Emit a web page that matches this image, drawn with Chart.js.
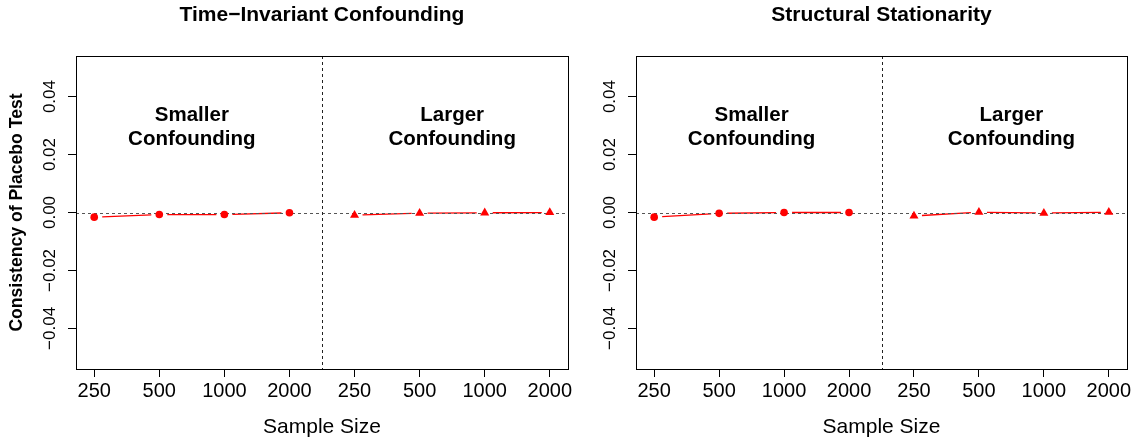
<!DOCTYPE html>
<html>
<head>
<meta charset="utf-8">
<script src="https://cdn.jsdelivr.net/npm/chart.js@4"></script>
<style>
  html, body { margin: 0; padding: 0; background: #fff; }
  #wrap { position: relative; width: 1139px; height: 442px; }
  #wrap canvas { position: absolute; left: 0; top: 0; }
</style>
</head>
<body>
<div id="wrap">
  <canvas id="left" width="1139" height="442"></canvas>
  <canvas id="right" width="1139" height="442"></canvas>
</div>
<script>
// x positions 1-4 = smaller confounding, 5-8 = larger confounding
const sampleSizes = ['250', '500', '1000', '2000'];
const smallerX = [1, 2, 3, 4];
const largerX = [5, 6, 7, 8];
const yTicks = [-0.04, -0.02, 0, 0.02, 0.04];
const yTickLabels = ['\u22120.04', '\u22120.02', '0.00', '0.02', '0.04'];

// Time-Invariant Confounding
const tiSmaller = [-0.0016, -0.0007, -0.0007, -0.0001];
const tiLarger = [-0.0009, -0.0002, -0.0001, 0.0000];
// Structural Stationarity
const ssSmaller = [-0.0016, -0.0003, 0.0000, 0.0000];
const ssLarger = [-0.0012, 0.0001, -0.0002, 0.0001];

const groupLabels = [['Smaller', 'Confounding'], ['Larger', 'Confounding']];
const groupLabelX = [2.5, 6.5];
const groupLabelY = 0.0314;
const dividerX = 4.5;

const family = 'Liberation Sans, Arial, Helvetica, sans-serif';

const toPoints = (xs, ys) => xs.map((x, i) => ({ x: x, y: ys[i] }));

// reference lines, R-style "b" lines, frame and rotated y labels
const panelDecor = {
  id: 'panelDecor',
  beforeDatasetsDraw(chart) {
    const { ctx, chartArea: a, scales: { x, y } } = chart;
    ctx.save();

    // lines between points, with a gap around each point
    ctx.strokeStyle = '#ff0000';
    ctx.lineWidth = 1.3;
    const gap = 8;
    chart.data.datasets.forEach((ds, i) => {
      const pts = chart.getDatasetMeta(i).data;
      for (let k = 0; k < pts.length - 1; k++) {
        const p0 = pts[k], p1 = pts[k + 1];
        const dx = p1.x - p0.x, dy = p1.y - p0.y;
        const len = Math.hypot(dx, dy);
        if (len <= gap * 2) continue;
        const ux = dx / len, uy = dy / len;
        ctx.beginPath();
        ctx.moveTo(p0.x + ux * gap, p0.y + uy * gap);
        ctx.lineTo(p1.x - ux * gap, p1.y - uy * gap);
        ctx.stroke();
      }
    });

    // zero line
    ctx.lineWidth = 1;
    ctx.strokeStyle = '#555';
    ctx.setLineDash([3, 3]);
    const y0 = Math.round(y.getPixelForValue(0)) + 0.5;
    ctx.beginPath();
    ctx.moveTo(a.left, y0);
    ctx.lineTo(a.right, y0);
    ctx.stroke();

    // divider between the two groups
    ctx.strokeStyle = '#222';
    ctx.setLineDash([3, 3]);
    const xd = Math.round(x.getPixelForValue(dividerX)) + 0.5;
    ctx.beginPath();
    ctx.moveTo(xd, a.top);
    ctx.lineTo(xd, a.bottom);
    ctx.stroke();
    ctx.restore();
  },
  afterDraw(chart) {
    const { ctx, chartArea: a, scales: { x, y } } = chart;
    ctx.save();
    ctx.strokeStyle = '#000';
    ctx.lineWidth = 1;
    ctx.strokeRect(Math.round(a.left) + 0.5, Math.round(a.top) + 0.5,
      Math.round(a.right - a.left), Math.round(a.bottom - a.top));

    // y tick labels, reading bottom to top
    ctx.fillStyle = '#000';
    ctx.font = '17px ' + family;
    ctx.textAlign = 'center';
    ctx.textBaseline = 'middle';
    yTicks.forEach((v, i) => {
      ctx.save();
      ctx.translate(a.left - 26, y.getPixelForValue(v));
      ctx.rotate(-Math.PI / 2);
      ctx.fillText(yTickLabels[i], 0, 0);
      ctx.restore();
    });

    // group labels
    ctx.font = 'bold 20.5px ' + family;
    ctx.textBaseline = 'alphabetic';
    groupLabels.forEach((lines, i) => {
      const px = x.getPixelForValue(groupLabelX[i]);
      const py = y.getPixelForValue(groupLabelY);
      lines.forEach((t, j) => ctx.fillText(t, px, py + j * 24));
    });
    ctx.restore();
  }
};

function makePanel(id, title, smaller, larger, showYTitle, padLeft, padRight, yWidth) {
  return new Chart(document.getElementById(id), {
    type: 'scatter',
    data: {
      datasets: [
        {
          data: toPoints(smallerX, smaller),
          pointStyle: 'circle',
          pointRadius: 3.8,
          backgroundColor: '#ff0000',
          borderColor: '#ff0000',
          borderWidth: 0
        },
        {
          data: toPoints(largerX, larger),
          pointStyle: 'triangle',
          pointRadius: 5.2,
          backgroundColor: '#ff0000',
          borderColor: '#ff0000',
          borderWidth: 0
        }
      ]
    },
    options: {
      responsive: false,
      animation: false,
      devicePixelRatio: 1,
      layout: { padding: { left: padLeft, right: padRight, top: 0, bottom: 0 } },
      plugins: {
        legend: { display: false },
        tooltip: { enabled: false },
        title: {
          display: true,
          text: title,
          fullSize: false,
          color: '#000',
          font: { family: family, size: 21, weight: 'bold' },
          padding: { top: 2.4, bottom: 28.4 }
        }
      },
      scales: {
        x: {
          type: 'linear',
          min: 0.72,
          max: 8.28,
          afterBuildTicks: (s) => { s.ticks = smallerX.concat(largerX).map(v => ({ value: v })); },
          afterFit: (s) => { s.height = 73; s.paddingLeft = 0; s.paddingRight = 0; },
          ticks: {
            callback: (v) => sampleSizes[(Math.round(v) - 1) % 4],
            color: '#000',
            font: { family: family, size: 20 },
            padding: 2,
            maxRotation: 0,
            autoSkip: false
          },
          grid: { drawOnChartArea: false, tickLength: 8, tickColor: '#000', tickWidth: 1 },
          border: { display: false },
          title: {
            display: true,
            text: 'Sample Size',
            color: '#000',
            font: { family: family, size: 21 },
            padding: { top: 0, bottom: 2.4 }
          }
        },
        y: {
          min: -0.054,
          max: 0.054,
          afterBuildTicks: (s) => { s.ticks = yTicks.map(v => ({ value: v })); },
          afterFit: (s) => { s.width = yWidth; s.paddingTop = 0; s.paddingBottom = 0; },
          ticks: { display: false },
          grid: { drawOnChartArea: false, tickLength: 8, tickColor: '#000', tickWidth: 1 },
          border: { display: false },
          title: {
            display: showYTitle,
            text: 'Consistency of Placebo Test',
            color: '#000',
            font: { family: family, size: 17.6, weight: 'bold' },
            padding: { top: 6.9, bottom: 0 }
          }
        }
      }
    },
    plugins: [panelDecor]
  });
}

makePanel('left', 'Time\u2212Invariant Confounding', tiSmaller, tiLarger, true, 0, 1139 - 568, 76);
makePanel('right', 'Structural Stationarity', ssSmaller, ssLarger, false, 570, 1139 - 1127, 66);
</script>
</body>
</html>
